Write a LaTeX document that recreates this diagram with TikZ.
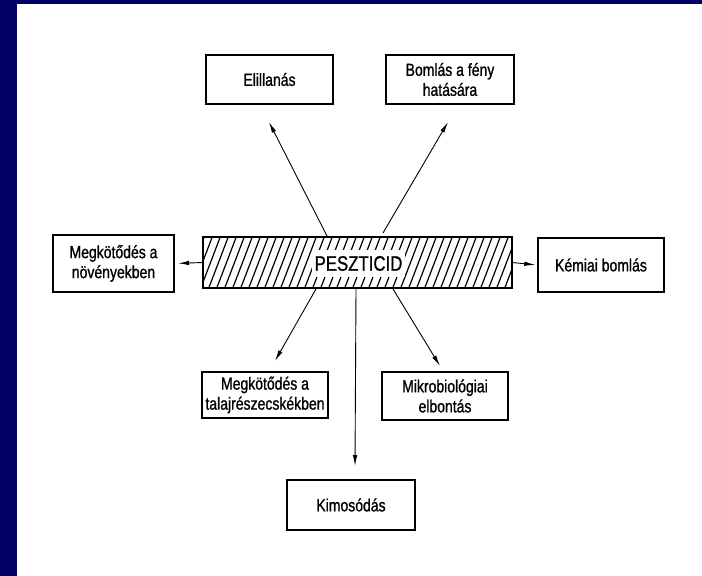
\documentclass[tikz,border=0pt]{standalone}
\usepackage{fontspec}
\setmainfont{Liberation Sans}[FakeStretch=0.8, FakeBold=1]
\usetikzlibrary{arrows.meta}
\definecolor{navyframe}{HTML}{000066}
\tikzset{
  box/.style={draw, line width=1.4pt, minimum width=126pt, minimum height=48pt,
    align=center, inner sep=0pt, font=\fontsize{17.5}{20}\selectfont},
  arr/.style={-{Latex[length=11pt,width=4.5pt]}, line width=0.9pt},
  hatch/.style={line width=1.2pt}
}

\begin{document}
\begin{tikzpicture}[x=1pt,y=-1pt] %origin top left, units are pixels
\useasboundingbox (0,0) rectangle (702,576);
\fill[navyframe] (0,0) rectangle (17,576);
\fill[navyframe] (0,0) rectangle (702,4);

% boxes
\node[box, minimum width=127pt, minimum height=49pt] (evap) at (269.5,79.5) {Elillanás};
\node[box, minimum width=128pt, minimum height=49pt] (photo) at (450,79.5) {Bomlás a fény\\hatására};
\node[box, minimum width=121pt, minimum height=57pt] (plant) at (113.5,263.5) {Megkötődés a\\növényekben};
\node[box, minimum height=54pt] (chem) at (601,265) {Kémiai bomlás};
\node[box, minimum height=46pt] (soil) at (265,395) {Megkötődés a\\talajrészecskékben};
\node[box] (micro) at (445,396) {Mikrobiológiai\\elbontás};
\node[box, minimum width=128pt, minimum height=50pt] (wash) at (351,505) {Kimosódás};

% hatched bar
\node[minimum width=309pt, minimum height=51pt, inner sep=0pt] (bar) at (357.5,262.5) {};
\begin{scope}
\clip (bar.south west) rectangle (bar.north east);
\foreach \x in {176,184,...,520} {
\draw[hatch] (\x,290) -- ++(21,-55);
}
\end{scope}
\draw[line width=1.8pt] (bar.north west) rectangle (bar.south east);
\node[fill=white, minimum width=93pt, minimum height=27pt, inner sep=0pt,
  font=\fontsize{21}{24}\selectfont] (name) at (358.5,263.5) {PESZTICID};

% arrows
\coordinate (s1) at (327,236);
\coordinate (t1) at (269,122);
\coordinate (s2) at (383,233);
\coordinate (t2) at (448,122);
\coordinate (s3) at (316,289);
\coordinate (t3) at (275,361);
\coordinate (s4) at (356,289);
\coordinate (t4) at (355,466);
\coordinate (s5) at (393,289);
\coordinate (t5) at (440,366);
\draw[arr] (s1) -- (t1);
\draw[arr] (s2) -- (t2);
\draw[arr] (s3) -- (t3);
\draw[arr] (s4) -- (t4);
\draw[arr] (s5) -- (t5);
\draw[arr, shorten >=3.5pt] (bar.west) -- (plant.east);
\draw[arr, shorten >=2pt] (bar.east) -- (chem.west);
\end{tikzpicture}
\end{document}
